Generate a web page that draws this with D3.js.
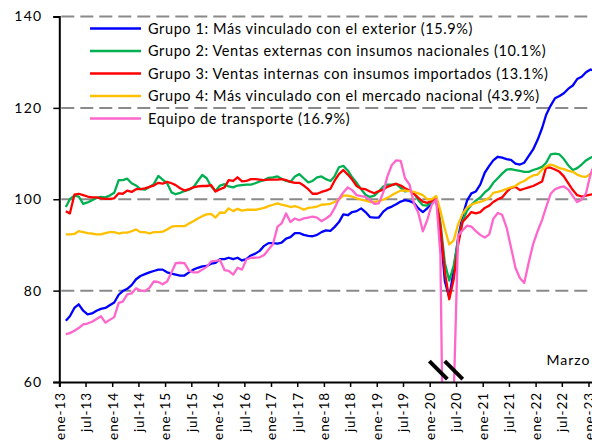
<!DOCTYPE html>
<html>
<head>
<meta charset="utf-8">
<script src="https://cdn.jsdelivr.net/npm/d3@7/dist/d3.min.js"></script>
<style>
  body { margin: 0; background: #fff; }
  svg { display: block; font-family: Lato, "Liberation Sans", sans-serif; }
</style>
</head>
<body>
<div id="chart"></div>
<script>
// monthly series, feb-2013 ... feb-2023
const meses = d3.timeMonth.range(new Date(2013, 1, 1), new Date(2023, 2, 1));
const mesesAbrev = ['ene', 'feb', 'mar', 'abr', 'may', 'jun', 'jul', 'ago', 'sep', 'oct', 'nov', 'dic'];
const yTicks = [60, 80, 100, 120, 140];

const nombres = [
    'Grupo 1: Más vinculado con el exterior (15.9%)',
    'Grupo 2: Ventas externas con insumos nacionales (10.1%)',
    'Grupo 3: Ventas internas con insumos importados (13.1%)',
    'Grupo 4: Más vinculado con el mercado nacional (43.9%)',
    'Equipo de transporte (16.9%)',
];
const colores = ['#0000ff', '#00b050', '#ff0000', '#ffc000', '#ff66cc'];

const grupo1 = [
    73.4, 74.4, 76.2, 77.0, 75.6, 74.8, 75.0, 75.6, 76.0, 76.2, 76.8, 77.4,
    79.1, 79.9, 80.4, 81.2, 82.5, 83.2, 83.6, 84.0, 84.3, 84.6, 84.6, 84.0,
    83.7, 83.5, 83.3, 83.3, 84.0, 84.6, 85.0, 85.3, 85.4, 85.9, 86.1, 86.9,
    86.9, 87.2, 86.9, 87.2, 86.6, 86.9, 87.7, 88.1, 88.7, 89.8, 90.4, 90.4,
    90.3, 90.5, 91.4, 91.7, 92.6, 92.6, 92.2, 92.0, 91.9, 92.2, 92.8, 93.2,
    93.1, 93.9, 95.0, 96.7, 96.5, 97.2, 97.4, 98.0, 97.2, 96.1, 96.0, 96.0,
    97.3, 98.0, 98.4, 98.9, 99.5, 99.8, 99.6, 99.2, 98.0, 97.2, 98.0, 99.2,
    100.0, 93.0, 82.0, 78.5, 84.5, 91.5, 96.3, 99.7, 101.3, 101.7, 103.2, 105.8,
    107.3, 108.5, 109.3, 109.1, 108.8, 108.6, 107.8, 107.6, 108.0, 109.5, 110.9, 113.0,
    115.6, 118.5, 120.5, 122.1, 122.6, 123.2, 124.2, 124.9, 126.3, 126.8, 127.8, 128.4,
    128.1,
];
const grupo2 = [
    98.3, 100.0, 100.8, 100.6, 99.0, 99.3, 99.8, 100.3, 100.5, 100.4, 100.8, 101.4,
    104.2, 104.2, 104.5, 103.5, 103.0, 102.2, 102.1, 102.7, 103.3, 105.1, 104.3, 103.5,
    101.5, 101.1, 101.4, 101.8, 102.1, 102.6, 104.0, 105.3, 104.6, 102.8, 101.8, 103.0,
    103.3, 102.8, 102.6, 103.0, 103.1, 103.2, 103.2, 103.5, 103.9, 104.2, 104.7, 104.8,
    105.0, 104.5, 104.0, 103.8, 105.0, 105.5, 104.6, 103.7, 104.0, 104.8, 105.0, 104.4,
    104.0, 105.0, 107.0, 107.3, 106.3, 104.8, 103.6, 102.2, 101.0, 100.5, 100.8, 101.7,
    102.8, 103.2, 103.2, 103.3, 102.5, 101.7, 101.9, 101.3, 99.8, 98.7, 98.6, 99.5,
    100.3, 95.0, 86.0, 82.2, 85.5, 91.0, 95.2, 97.5, 98.8, 99.7, 100.4, 101.5,
    102.3, 103.6, 104.6, 105.6, 106.5, 106.6, 106.4, 106.2, 106.0, 106.0, 106.4, 106.7,
    107.1, 108.0, 109.8, 110.0, 109.8, 108.8, 107.4, 106.4, 106.8, 107.6, 108.5, 109.1,
    109.6,
];
const grupo3 = [
    97.4, 96.9, 101.0, 101.2, 100.9, 100.6, 100.4, 100.4, 100.2, 100.1, 100.1, 100.2,
    101.3, 101.2, 101.9, 101.6, 102.2, 102.2, 102.4, 102.7, 103.0, 103.6, 103.4, 103.8,
    103.5, 103.1, 102.4, 101.9, 102.2, 102.6, 102.8, 102.9, 102.9, 103.1, 101.7, 102.2,
    102.6, 104.2, 104.0, 104.8, 103.9, 104.0, 104.4, 104.4, 104.3, 104.2, 104.3, 104.3,
    104.3, 104.4, 104.2, 103.8, 103.6, 103.6, 103.0, 102.2, 101.2, 101.2, 101.6, 101.9,
    102.3, 104.0, 105.5, 106.4, 105.4, 104.3, 102.9, 102.3, 102.2, 101.7, 101.3, 101.8,
    102.1, 102.7, 103.1, 103.4, 103.0, 102.4, 101.9, 101.2, 100.3, 99.5, 99.2, 99.6,
    100.2, 94.0, 84.0, 78.1, 82.5, 90.0, 95.0, 96.1, 97.2, 96.9, 97.2, 98.1,
    98.6, 99.4, 100.0, 100.4, 101.6, 102.5, 102.7, 102.0, 102.3, 102.6, 102.9, 103.4,
    103.9, 107.0, 106.9, 106.5, 106.0, 105.0, 103.5, 102.0, 100.9, 100.6, 100.8, 101.0,
    101.2,
];
const grupo4 = [
    92.3, 92.3, 92.4, 93.0, 92.8, 92.6, 92.5, 92.3, 92.3, 92.6, 92.8, 92.8,
    92.5, 92.7, 92.7, 93.0, 93.4, 92.8, 92.8, 92.5, 92.8, 92.8, 92.9, 93.4,
    94.0, 94.1, 94.1, 94.1, 94.7, 95.2, 95.8, 96.3, 96.7, 96.8, 96.0, 97.1,
    97.0, 98.0, 97.4, 97.9, 97.5, 97.7, 97.7, 97.7, 97.9, 98.1, 98.5, 98.8,
    99.1, 98.8, 98.6, 98.3, 98.5, 98.2, 97.7, 98.1, 98.2, 98.4, 98.8, 98.9,
    99.0, 99.4, 100.0, 100.8, 100.8, 100.6, 100.2, 99.9, 99.7, 99.4, 99.4, 99.6,
    99.9, 100.3, 100.9, 101.4, 101.9, 101.9, 101.8, 101.6, 101.3, 100.9, 100.0, 100.0,
    100.7, 97.5, 93.5, 90.1, 91.0, 94.5, 96.8, 98.2, 98.8, 99.2, 99.4, 99.8,
    100.3, 101.4, 101.6, 101.9, 102.3, 102.6, 102.9, 103.6, 104.0, 104.7, 105.2, 105.4,
    106.5, 107.2, 107.6, 107.3, 106.8, 106.6, 106.2, 106.0, 105.4, 105.0, 104.9, 105.6,
    105.8,
];
const equipoTransporte = [
    70.5, 70.7, 71.2, 71.8, 72.6, 72.8, 73.2, 73.8, 74.4, 73.0, 73.6, 74.2,
    77.3, 77.6, 79.2, 79.4, 80.5, 80.0, 79.9, 80.6, 82.0, 81.9, 81.4, 82.0,
    84.0, 86.0, 86.1, 86.0, 84.4, 84.0, 84.0, 84.6, 85.2, 86.4, 86.5, 86.7,
    84.5, 84.3, 83.5, 85.0, 84.6, 86.8, 87.2, 87.2, 87.3, 87.8, 89.0, 90.2,
    94.0, 94.7, 96.9, 95.0, 95.8, 95.4, 95.8, 96.0, 96.2, 96.0, 95.2, 95.8,
    96.5, 98.0, 100.1, 101.5, 102.6, 102.0, 100.9, 100.7, 100.5, 99.8, 99.0, 99.1,
    101.5, 105.0, 107.5, 108.5, 108.4, 104.6, 103.2, 99.0, 97.0, 93.0, 95.4, 98.8,
    100.0, 88.0, 12.0, 5.0, 57.0, 92.0, 93.2, 94.2, 94.0, 93.0, 92.2, 91.6,
    92.3, 95.7, 97.0, 96.6, 93.8, 89.5, 85.0, 82.7, 81.7, 86.2, 90.2, 93.0,
    95.5, 98.3, 101.2, 102.2, 102.6, 102.8, 102.1, 100.7, 99.4, 99.9, 101.3, 105.5,
    108.0,
];

const series = [grupo1, grupo2, grupo3, grupo4, equipoTransporte];

const width = 592;
const height = 442;
const margin = { top: 16.5, left: 59.3, bottom: 60 };

const svg = d3
    .select('#chart')
    .append('svg')
    .attr('width', width)
    .attr('height', height);

// x axis: ene-13 tick at the y axis, 6 month spacing
const x = d3
    .scaleTime()
    .domain([new Date(2013, 0, 1), new Date(2023, 3, 1)])
    .range([margin.left, margin.left + 529 * (123 / 120)]);

const y = d3
    .scaleLinear()
    .domain([60, 140])
    .range([height - margin.bottom, margin.top]);

// dashed grid lines
svg.append('g')
    .selectAll('line')
    .data(yTicks.filter((d) => d > 60))
    .enter()
    .append('line')
    .attr('x1', margin.left + 2)
    .attr('x2', width)
    .attr('y1', (d) => y(d))
    .attr('y2', (d) => y(d))
    .attr('stroke', '#8a8a8a')
    .attr('stroke-width', 2)
    .attr('stroke-dasharray', '13,6');

// plot clip
svg.append('clipPath')
    .attr('id', 'plot-clip')
    .append('rect')
    .attr('x', margin.left)
    .attr('y', 0)
    .attr('width', width - margin.left)
    .attr('height', y(60));

const line = d3
    .line()
    .x((d, i) => x(d3.timeDay.offset(meses[i], 14)))
    .y((d) => y(d));

svg.append('g')
    .attr('clip-path', 'url(#plot-clip)')
    .selectAll('path')
    .data(series)
    .enter()
    .append('path')
    .attr('fill', 'none')
    .attr('stroke', (d, i) => colores[i])
    .attr('stroke-width', 2.3)
    .attr('stroke-linejoin', 'round')
    .attr('d', line);

// x axis
const xTickValues = d3.timeMonth.every(6).range(new Date(2013, 0, 1), new Date(2023, 3, 1));
const xAxis = svg
    .append('g')
    .attr('transform', `translate(0,${y(60)})`)
    .call(
        d3.axisBottom(x)
            .tickValues(xTickValues)
            .tickSize(5)
            .tickPadding(6)
            .tickFormat((d) => mesesAbrev[d.getMonth()] + '-' + String(d.getFullYear()).slice(2))
    );
xAxis.select('.domain').attr('stroke', '#000').attr('stroke-width', 2);
xAxis.selectAll('.tick line').attr('stroke', '#000').attr('stroke-width', 1.5);
xAxis
    .selectAll('text')
    .attr('font-size', 13.5)
    .attr('font-family', 'Lato, sans-serif')
    .attr('letter-spacing', 0.9)
    .attr('fill', '#000')
    .attr('text-anchor', 'end')
    .attr('transform', 'rotate(-90)')
    .attr('x', -10)
    .attr('y', 0)
    .attr('dy', '0.36em');

// y axis
const yAxis = svg
    .append('g')
    .attr('transform', `translate(${margin.left},0)`)
    .call(d3.axisLeft(y).tickValues(yTicks).tickSize(6).tickPadding(11));
yAxis.select('.domain').attr('stroke', '#000').attr('stroke-width', 2);
yAxis.selectAll('.tick line').attr('stroke', '#000').attr('stroke-width', 1.5);
yAxis
    .selectAll('text')
    .attr('font-size', 14)
    .attr('font-family', 'Lato, sans-serif')
    .attr('letter-spacing', 1.2)
    .attr('fill', '#000');

// axis break marks on the pink dip
const breakDates = [new Date(2020, 2, 1), new Date(2020, 5, 15)];
svg.append('g')
    .selectAll('line')
    .data(breakDates)
    .enter()
    .append('line')
    .attr('x1', (d) => x(d) - 9)
    .attr('x2', (d) => x(d) + 9)
    .attr('y1', y(62.6) - 9)
    .attr('y2', y(62.6) + 9)
    .attr('stroke', '#000')
    .attr('stroke-width', 4);

// legend
const legend = svg
    .append('g')
    .selectAll('g')
    .data(nombres)
    .enter()
    .append('g')
    .attr('transform', (d, i) => `translate(90,${28.5 + i * 22.5})`);

legend
    .append('line')
    .attr('x1', 0)
    .attr('x2', 51)
    .attr('stroke', (d, i) => colores[i])
    .attr('stroke-width', 2.5);

legend
    .append('text')
    .attr('x', 58)
    .attr('dy', '0.36em')
    .attr('font-size', 14.5)
    .attr('letter-spacing', 0.6)
    .attr('fill', '#000')
    .text((d) => d);

svg.append('text')
    .attr('x', 546.5)
    .attr('y', 365)
    .attr('font-size', 14)
    .attr('letter-spacing', 1)
    .attr('fill', '#000')
    .text('Marzo');
</script>
</body>
</html>
